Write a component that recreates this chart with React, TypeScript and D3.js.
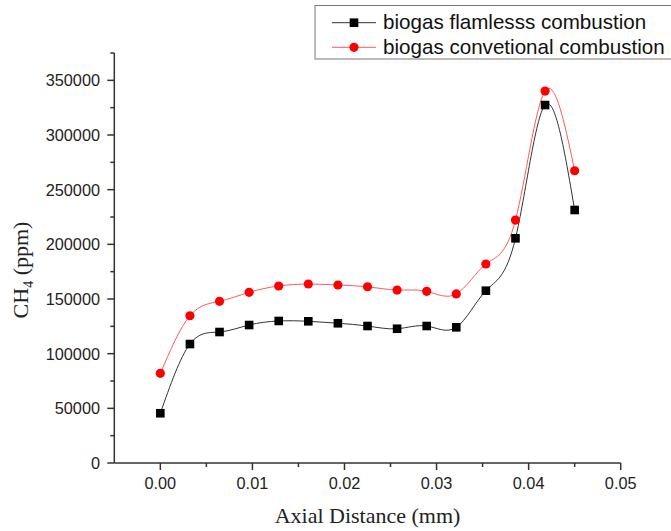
import React from "react";
import * as d3 from "d3";

const xValues = [0, 0.0032143, 0.0064286, 0.0096429, 0.0128571, 0.0160714, 0.0192857, 0.0225, 0.0257143, 0.0289286, 0.0321429, 0.0353571, 0.0385714, 0.0417857, 0.045];
const flameless = [45500, 108800, 119800, 126200, 129900, 129600, 127800, 125300, 122800, 125300, 124100, 157600, 205500, 327400, 231400];
const conventional = [82000, 134700, 147900, 156100, 161900, 163700, 162800, 161200, 158200, 157000, 154600, 182000, 222200, 340200, 267300];
const xMajorTicks = [0, 0.01, 0.02, 0.03, 0.04, 0.05];
const xMinorTicks = [0.005, 0.015, 0.025, 0.035, 0.045];
const yMajorTicks = [0, 50000, 100000, 150000, 200000, 250000, 300000, 350000];
const yMinorTicks = [25000, 75000, 125000, 175000, 225000, 275000, 325000, 375000];
const seriesNames = ["biogas flamlesss combustion", "biogas convetional combustion"];

const W = 671;
const H = 531;
const sans = "'Liberation Sans', Arial, sans-serif";
const serif = "'Liberation Serif', 'Times New Roman', serif";

export default function App() {
  const x = d3.scaleLinear().domain([-0.005, 0.05]).range([114.3, 620.7]);
  const y = d3.scaleLinear().domain([0, 375000]).range([463, 53]);
  const line = d3
    .line<number>()
    .x((_, i) => x(xValues[i]))
    .y((d) => y(d))
    .curve(d3.curveNatural);
  const axisColor = "#333";
  return (
    <svg
      width={W}
      height={H}
      style={{ position: "absolute", left: 0, top: 0, background: "#fff" }}
    >
      {/* axes */}
      <line x1={x(-0.005)} x2={x(0.05)} y1={y(0)} y2={y(0)} stroke={axisColor} strokeWidth={1.5} />
      <line x1={x(-0.005)} x2={x(-0.005)} y1={y(0)} y2={y(375000)} stroke={axisColor} strokeWidth={1.5} />
      {xMajorTicks.map((t) => (
        <g key={"xm" + t}>
          <line x1={x(t)} x2={x(t)} y1={y(0)} y2={y(0) + 7} stroke={axisColor} strokeWidth={1.5} />
          <text x={x(t)} y={489} textAnchor="middle" fontFamily={sans} fontSize={16.3} fill="#222">
            {t.toFixed(2)}
          </text>
        </g>
      ))}
      {xMinorTicks.map((t) => (
        <line key={"xn" + t} x1={x(t)} x2={x(t)} y1={y(0)} y2={y(0) + 4} stroke={axisColor} strokeWidth={1.5} />
      ))}
      {yMajorTicks.map((t) => (
        <g key={"ym" + t}>
          <line x1={x(-0.005) - 7} x2={x(-0.005)} y1={y(t)} y2={y(t)} stroke={axisColor} strokeWidth={1.5} />
          <text x={100} y={y(t)} dy="0.36em" textAnchor="end" fontFamily={sans} fontSize={16.3} fill="#222">
            {t}
          </text>
        </g>
      ))}
      {yMinorTicks.map((t) => (
        <line key={"yn" + t} x1={x(-0.005) - 4} x2={x(-0.005)} y1={y(t)} y2={y(t)} stroke={axisColor} strokeWidth={1.5} />
      ))}
      {/* axis titles */}
      <text x={367.5} y={523} textAnchor="middle" fontFamily={serif} fontSize={22} fill="#222">
        Axial Distance (mm)
      </text>
      <text
        transform="translate(28,270) rotate(-90)"
        textAnchor="middle"
        fontFamily={serif}
        fontSize={22}
        fill="#222"
      >
        CH<tspan fontSize={14} dy={5}>4</tspan>
        <tspan dy={-5}> (ppm)</tspan>
      </text>
      {/* series */}
      <path d={line(flameless) || ""} fill="none" stroke="#333" strokeWidth={1} />
      <path d={line(conventional) || ""} fill="none" stroke="#ff5a5a" strokeWidth={1} />
      {flameless.map((v, i) => (
        <rect key={"s" + i} x={x(xValues[i]) - 4.3} y={y(v) - 4.3} width={8.6} height={8.6} fill="#000" />
      ))}
      {conventional.map((v, i) => (
        <circle key={"c" + i} cx={x(xValues[i])} cy={y(v)} r={4.6} fill="#ff0000" />
      ))}
      {/* legend */}
      <rect x={315} y={5.5} width={370} height={53.5} fill="#fff" stroke="#777" strokeWidth={1} />
      <line x1={332} x2={376} y1={22.7} y2={22.7} stroke="#333" strokeWidth={1} />
      <rect x={354 - 4.3} y={22.7 - 4.3} width={8.6} height={8.6} fill="#000" />
      <text x={383} y={28.5} fontFamily={sans} fontSize={20.6} fill="#111">
        {seriesNames[0]}
      </text>
      <line x1={332} x2={376} y1={47.3} y2={47.3} stroke="#ff5a5a" strokeWidth={1} />
      <circle cx={354} cy={47.3} r={4.6} fill="#ff0000" />
      <text x={383} y={54} fontFamily={sans} fontSize={20.6} fill="#111">
        {seriesNames[1]}
      </text>
    </svg>
  );
}
